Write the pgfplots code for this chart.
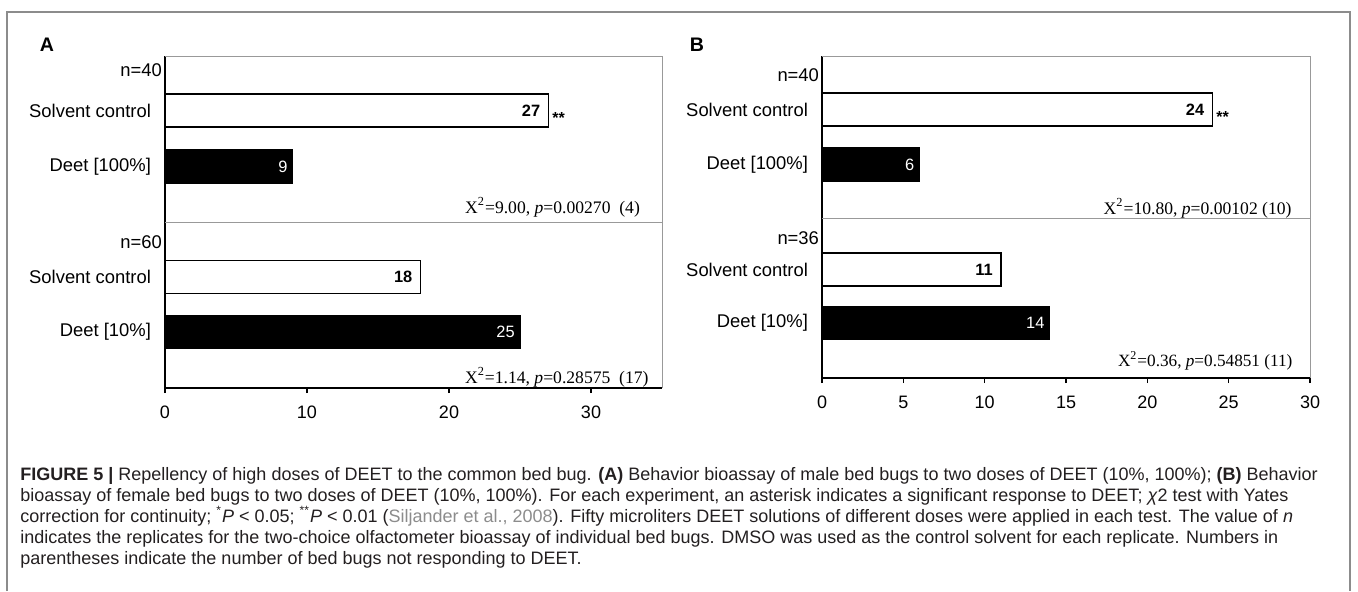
\documentclass[border=0pt]{standalone}
\usepackage{fontspec}
\setmainfont{Liberation Sans}
\newfontfamily\timesf{Liberation Serif}
\usepackage{pgfplots}
\pgfplotsset{compat=1.18}
\newcommand{\lab}{\fontsize{9.2}{10}\selectfont}
\newcommand{\tkl}{\fontsize{9}{10}\selectfont}
\newcommand{\capf}{\fontsize{9}{10}\selectfont}
\newcommand{\chif}{\timesf\fontsize{8.8}{10}\selectfont}
\definecolor{frame}{gray}{0.55}
\definecolor{boxg}{gray}{0.6}
\definecolor{captxt}{HTML}{231F20}
\definecolor{citeg}{gray}{0.55}
\pgfplotsset{
  panel/.style={
    scale only axis, anchor=north west,
    axis x line*=bottom, axis y line*=left,
    axis line style={-, black, line width=0.6pt},
    tick align=outside, major tick length=2.5pt,
    xtick style={black, line width=0.6pt},
    ytick style={draw=none},
    /pgf/number format/assume math mode=true,
    xticklabel style={font=\tkl, yshift=-3pt},
    yticklabel style={font=\lab, xshift=-1pt},
    clip=false,
  },
  wbar/.style={xbar, bar shift=0pt, bar width=33, fill=white, draw=black, line width=0.6pt,
    point meta=x, nodes near coords,
    every node near coord/.append style={anchor=east, xshift=-0.5pt, font=\bfseries\fontsize{8.2}{9}\selectfont, text=black}},
  bbar/.style={xbar, bar shift=0pt, bar width=33, fill=black, draw=black, line width=0.6pt,
    point meta=x, nodes near coords,
    every node near coord/.append style={anchor=east, xshift=1pt, font=\fontsize{8.2}{9}\selectfont, text=white}},
}
\begin{document}
\begin{tikzpicture}[x=0.5pt,y=-0.5pt]
\path[use as bounding box] (0,0) rectangle (1358,591);
\draw[frame, line width=0.6pt] (7,591) -- (7,12) -- (1350,12) -- (1350,591);
\node[font=\bfseries\fontsize{9.8}{11}\selectfont] at (47,45) {A};
\node[font=\bfseries\fontsize{9.8}{11}\selectfont] at (697,45) {B};

% ---------------- Panel A ----------------
\begin{axis}[panel, at={(82.5pt,-28pt)}, width=248.5pt, height=166pt,
  xmin=0, xmax=35, ymin=0, ymax=332,
  xtick={0,10,20,30},
  ytick={56,111,221.5,277.5},
  yticklabels={Deet [10\%],Solvent control,Deet [100\%],Solvent control}]
\draw[boxg, line width=0.5pt] (rel axis cs:0,1) -- (rel axis cs:1,1) -- (rel axis cs:1,0);
\draw[boxg, line width=0.5pt] (axis cs:0,166) -- (axis cs:35,166);
\addplot[wbar] coordinates {(27,277.5) (18,111)};
\addplot[bbar] coordinates {(9,221.5) (25,56)};
\node[anchor=west, font=\bfseries\fontsize{8}{8}\selectfont, yshift=-3.5pt, xshift=-1.5pt] at (axis cs:27,277.5) {**};
\node[anchor=east, font=\lab, xshift=2pt] at (axis cs:0,318) {n=40};
\node[anchor=east, font=\lab, xshift=2pt] at (axis cs:0,146) {n=60};
\node[anchor=east, font=\chif] at (axis cs:33.94,181) {X\textsuperscript{2}=9.00, \textit{p}=0.00270~~(4)};
\node[anchor=east, font=\chif] at (axis cs:34.55,11) {X\textsuperscript{2}=1.14, \textit{p}=0.28575~~(17)};
\end{axis}

% ---------------- Panel B ----------------
\begin{axis}[panel, at={(411pt,-28pt)}, width=244pt, height=161pt,
  xmin=0, xmax=30, ymin=0, ymax=322,
  xtick={0,5,10,15,20,25,30},
  ytick={55,108.5,213.5,268.5},
  yticklabels={Deet [10\%],Solvent control,Deet [100\%],Solvent control}]
\draw[boxg, line width=0.5pt] (rel axis cs:0,1) -- (rel axis cs:1,1) -- (rel axis cs:1,0);
\draw[boxg, line width=0.5pt] (axis cs:0,160) -- (axis cs:30,160);
\addplot[wbar] coordinates {(24,268.5) (11,108.5)};
\addplot[bbar] coordinates {(6,213.5) (14,55)};
\node[anchor=west, font=\bfseries\fontsize{8}{8}\selectfont, yshift=-3.5pt, xshift=-1.5pt] at (axis cs:24,268.5) {**};
\node[anchor=east, font=\lab, xshift=2pt] at (axis cs:0,303) {n=40};
\node[anchor=east, font=\lab, xshift=2pt] at (axis cs:0,140) {n=36};
\node[anchor=east, font=\chif] at (axis cs:29.3,170) {X\textsuperscript{2}=10.80, \textit{p}=0.00102 (10)};
\node[anchor=east, font=\timesf\fontsize{8.6}{10}\selectfont] at (axis cs:29.35,17) {X\textsuperscript{2}=0.36, \textit{p}=0.54851 (11)};
\end{axis}

% ---------------- Caption ----------------
\begin{scope}[every node/.style={anchor=base west, font=\capf, text=captxt, inner sep=0pt}]
\node at (20,480) {\textbf{FIGURE 5 |} Repellency of high doses of DEET to the common bed bug. \textbf{(A)} Behavior bioassay of male bed bugs to two doses of DEET (10\%, 100\%); \textbf{(B)} Behavior};
\node at (20,501) {bioassay of female bed bugs to two doses of DEET (10\%, 100\%). For each experiment, an asterisk indicates a significant response to DEET; \textit{χ}2 test with Yates};
\node at (20,522) {correction for continuity; \textsuperscript{*}\textit{P} < 0.05; \textsuperscript{**}\textit{P} < 0.01 ({\color{citeg}Siljander et al., 2008}). Fifty microliters DEET solutions of different doses were applied in each test. The value of \textit{n}};
\node at (20,543) {indicates the replicates for the two-choice olfactometer bioassay of individual bed bugs. DMSO was used as the control solvent for each replicate. Numbers in};
\node at (20,564) {parentheses indicate the number of bed bugs not responding to DEET.};
\end{scope}
\end{tikzpicture}
\end{document}
